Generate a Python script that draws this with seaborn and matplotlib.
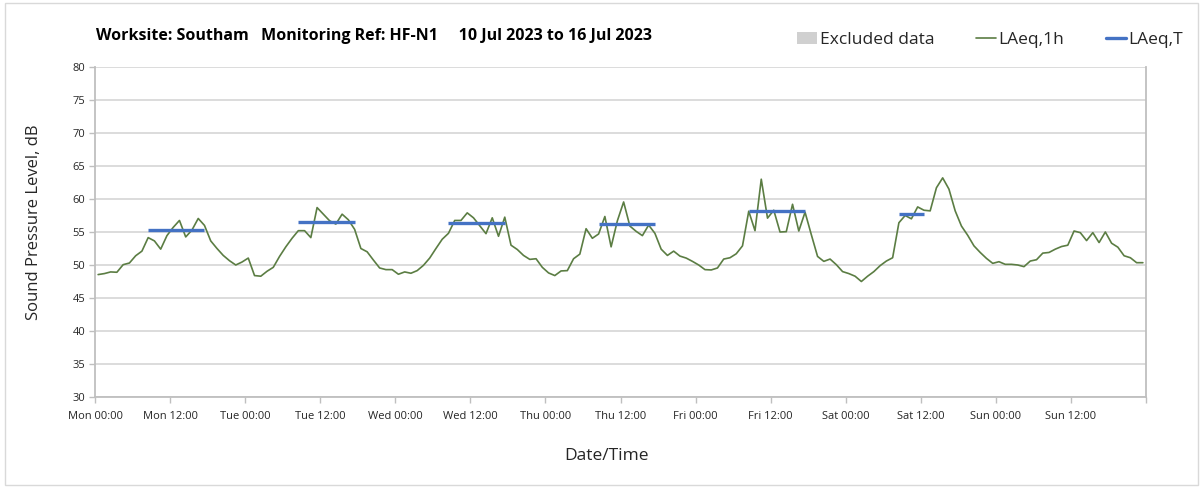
import numpy as np
import pandas as pd
import matplotlib
matplotlib.use("Agg")
import matplotlib.pyplot as plt
from matplotlib.ticker import FixedLocator, MultipleLocator
from matplotlib.patches import Patch, Rectangle
from matplotlib.lines import Line2D
import seaborn as sns

# ---------------- data ----------------
days = ["Mon", "Tue", "Wed", "Thu", "Fri", "Sat", "Sun"]
tick_labels = [f"{d} {t}" for d in days for t in ("00:00", "12:00")]

# hourly LAeq,1h values, Mon 00:00 .. Sun 23:00
laeq_mon = [48.55, 48.7, 48.95, 48.9, 50.05, 50.3, 51.4, 52.1, 54.15, 53.65, 52.4, 54.45,
            55.7, 56.75, 54.25, 55.3, 57.05, 56.0, 53.65, 52.5, 51.45, 50.65, 50.0, 50.45]
laeq_tue = [51.05, 48.4, 48.3, 49.05, 49.65, 51.3, 52.75, 54.05, 55.2, 55.2, 54.15, 58.7,
            57.7, 56.7, 56.2, 57.7, 56.85, 55.4, 52.5, 52.0, 50.75, 49.55, 49.3, 49.3]
laeq_wed = [48.6, 48.95, 48.75, 49.15, 49.95, 51.05, 52.5, 53.9, 54.8, 56.75, 56.75, 57.9,
            57.15, 55.95, 54.75, 57.15, 54.35, 57.25, 53.0, 52.35, 51.45, 50.85, 50.95, 49.65]
laeq_thu = [48.8, 48.4, 49.1, 49.15, 50.95, 51.65, 55.5, 54.05, 54.7, 57.35, 52.75, 56.7,
            59.55, 55.9, 55.1, 54.45, 56.05, 54.8, 52.4, 51.45, 52.1, 51.35, 51.05, 50.55]
laeq_fri = [50.0, 49.3, 49.25, 49.55, 50.9, 51.1, 51.7, 52.9, 58.15, 55.2, 63.0, 57.1,
            58.3, 55.0, 55.05, 59.2, 55.15, 58.0, 54.6, 51.3, 50.55, 50.9, 50.05, 49.0]
laeq_sat = [48.7, 48.3, 47.5, 48.3, 49.0, 49.9, 50.6, 51.1, 56.4, 57.5, 57.0, 58.8,
            58.3, 58.2, 61.7, 63.2, 61.5, 58.2, 55.9, 54.5, 52.9, 51.9, 51.0, 50.25]
laeq_sun = [50.5, 50.1, 50.1, 50.0, 49.75, 50.6, 50.8, 51.8, 51.9, 52.4, 52.8, 53.0,
            55.15, 54.9, 53.7, 54.9, 53.4, 55.0, 53.3, 52.7, 51.4, 51.1, 50.35, 50.35]

# LAeq,T over the working-hours periods
laeqT_days = ["Mon", "Tue", "Wed", "Thu", "Fri", "Sat"]
laeqT_values = [55.25, 56.45, 56.4, 56.2, 58.2, 57.7]
laeqT_first_hour = [8, 8, 8, 8, 8, 8]
laeqT_last_hour = [17, 17, 17, 17, 17, 12]

title_text = "Worksite: Southam   Monitoring Ref: HF-N1     10 Jul 2023 to 16 Jul 2023"

# ---------------- build frames ----------------
hourly = laeq_mon + laeq_tue + laeq_wed + laeq_thu + laeq_fri + laeq_sat + laeq_sun
df = pd.DataFrame({"hour": np.arange(len(hourly)) + 0.5, "LAeq,1h": hourly})

rows = []
for i, d in enumerate(laeqT_days):
    di = days.index(d)
    for h in range(laeqT_first_hour[i], laeqT_last_hour[i] + 1):
        rows.append({"period": d, "hour": di * 24 + h + 0.5, "LAeq,T": laeqT_values[i]})
dfT = pd.DataFrame(rows)

# ---------------- style ----------------
sns.set_theme(style="white")
plt.rcParams["font.family"] = ["Open Sans", "DejaVu Sans"]

GREEN = "#5B7D43"
BLUE = "#4472C4"
GRID = "#D9D9D9"
TXT = "#262626"

fig = plt.figure(figsize=(12.03, 4.88), dpi=100)
ax = fig.add_axes([95 / 1203, 1 - 397 / 488, (1146 - 95) / 1203, (397 - 67) / 488])

sns.lineplot(data=df, x="hour", y="LAeq,1h", ax=ax, color=GREEN, lw=1.2, zorder=3)
sns.lineplot(data=dfT, x="hour", y="LAeq,T", units="period", estimator=None,
             ax=ax, color=BLUE, lw=2.4, zorder=4, solid_capstyle="butt")

ax.set_xlim(0, 168)
ax.set_ylim(30, 80)
ax.yaxis.set_major_locator(MultipleLocator(5))
ax.xaxis.set_major_locator(FixedLocator(list(range(0, 169, 12))))
ax.set_xticklabels(tick_labels + [""])
ax.xaxis.set_minor_locator(FixedLocator(list(range(24, 168, 24))))

ax.grid(False)
ax.yaxis.grid(True, color=GRID, lw=1.3)
ax.xaxis.grid(True, which="minor", color=GRID, lw=1.3)
ax.set_axisbelow(True)

ax.spines["top"].set_visible(False)
for s in ("left", "bottom", "right"):
    ax.spines[s].set_color("#BFBFBF")
    ax.spines[s].set_linewidth(1.3)

ax.tick_params(axis="x", which="major", length=4, width=1, color="#BFBFBF",
               labelsize=8, labelcolor=TXT, pad=6)
ax.tick_params(axis="x", which="minor", length=0)
ax.tick_params(axis="y", which="major", length=4, width=1, color="#BFBFBF",
               labelsize=8, labelcolor=TXT, pad=3)
ax.tick_params(left=True, bottom=True)

ax.set_xlabel("Date/Time", fontsize=12.5, color=TXT)
ax.xaxis.set_label_coords((606 - 95) / 1051, -0.155)
ax.set_ylabel("Sound Pressure Level, dB", fontsize=12, color=TXT)
ax.yaxis.set_label_coords(-0.05, 0.53)

fig.text(96 / 1203, 1 - 36 / 488, title_text, fontsize=11.5, fontweight="bold",
         color="#000000", ha="left", va="center")

handles = [Patch(facecolor="#D0D0D0", edgecolor="none"),
           Line2D([], [], color=GREEN, lw=1.2),
           Line2D([], [], color=BLUE, lw=2.4)]
labels = ["Excluded data", "LAeq,1h", "LAeq,T"]
fig.legend(handles, labels, loc="center right", bbox_to_anchor=(1183 / 1203, 1 - 40 / 488),
           ncol=3, frameon=False, fontsize=12.5, handlelength=1.15, handletextpad=0.15,
           columnspacing=2.4, labelcolor=TXT, borderaxespad=0, borderpad=0)

fig.patches.append(Rectangle((0.004, 0.006), 0.992, 0.988, transform=fig.transFigure,
                             fill=False, edgecolor="#D9D9D9", lw=1.0))

fig.savefig("out.png", dpi=100, facecolor="white")
